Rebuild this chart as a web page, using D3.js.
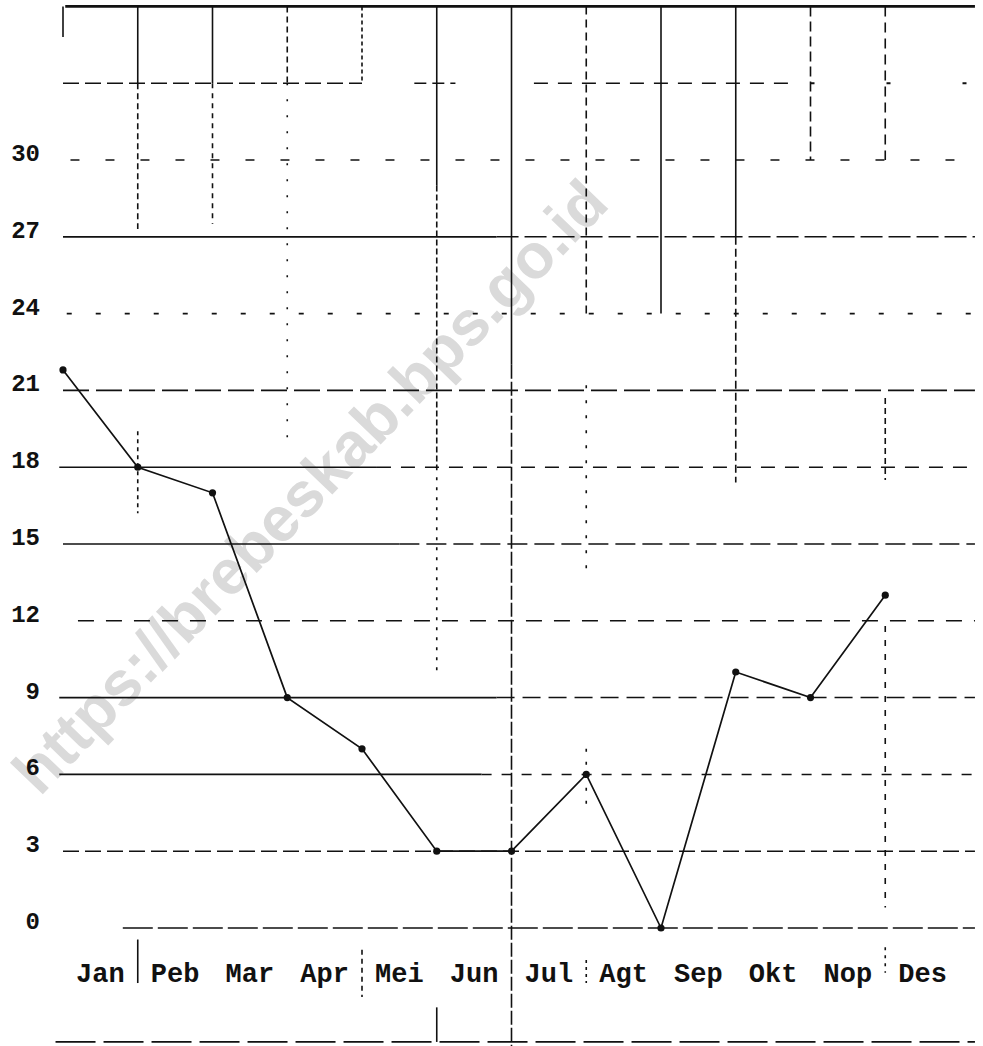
<!DOCTYPE html>
<html><head><meta charset="utf-8">
<script src="https://cdn.jsdelivr.net/npm/d3@7"></script>
<style>body{margin:0;background:#fff}svg{display:block}</style>
</head><body><svg id="c" width="983" height="1046"></svg>
<script>
// ---- data ----
const months = ["Jan","Peb","Mar","Apr","Mei","Jun","Jul","Agt","Sep","Okt","Nop","Des"];
const values = [21.8,18,17,9,7,3,3,6,0,10,9,13];
const yTicks = [0,3,6,9,12,15,18,21,24,27,30];
const watermark = "https://brebeskab.bps.go.id";

// ---- scales ----
const svg = d3.select("#c");
const x = d3.scaleBand().domain(months).range([63, 960]).padding(0);
const bw = x.bandwidth();
const gx = i => x.range()[0] + i * bw;           // grid position by (fractional) month index
const y = d3.scaleLinear().domain([0, 36]).range([928, 6.4]);

// ---- watermark ----
svg.append("text")
  .attr("transform", `translate(${gx(-0.31)},${y(5.1)}) rotate(-46)`)
  .attr("font-family", "Liberation Sans, Arial, sans-serif")
  .attr("font-weight", "bold")
  .attr("font-size", 63)
  .attr("fill", "#dadada")
  .text(watermark);

// ---- horizontal grid (scanned, broken lines) ----
const hStyle = new Map([
  [36, [[0.03,12.2,null,2.8]]],
  [33, [[0,4,"16 6",1.5],[4.7,5.25,"12 6",1.5],[6.3,9.8,"14 10",1.5],[10,12.2,"4 72",2]]],
  [30, [[0.1,12.2,"9 26",1.5]]],
  [27, [[0,5.8,null,1.7],[5.8,12.2,"22 6",1.6]]],
  [24, [[0.05,12.2,"5 24",1.6]]],
  [21, [[0,12.2,"26 7",1.6]]],
  [18, [[-0.05,4.2,null,1.6],[4.2,12.2,"14 10",1.5]]],
  [15, [[0,4.5,null,1.6],[4.5,12.2,"20 7",1.5]]],
  [12, [[0.2,12.2,"16 12",1.5]]],
  [9,  [[-0.05,5.8,null,1.6],[5.8,12.2,"18 8",1.5]]],
  [6,  [[-0.05,5.6,null,1.6],[5.6,12.2,"10 10",1.5]]],
  [3,  [[0,12.2,"16 6",1.5]]],
  [0,  [[0.8,12.2,"30 5",1.7]]],
  [-4.45, [[-0.1,12.2,"40 8",1.7]]]
]);
const hSegs = [];
hStyle.forEach((segs, v) => segs.forEach(s => hSegs.push({v, i0:s[0], i1:s[1], dash:s[2], w:s[3]})));
svg.append("g").selectAll("line").data(hSegs).join("line")
  .attr("x1", d => gx(d.i0)).attr("x2", d => gx(d.i1))
  .attr("y1", d => y(d.v)).attr("y2", d => y(d.v))
  .attr("stroke", "#111").attr("stroke-width", d => d.w)
  .attr("stroke-dasharray", d => d.dash);

// ---- vertical grid ----
const vStyle = new Map([
  [0,  [[36,34.8,null]]],
  [1,  [[36,33,null],[33,27.3,"6 4"],[19.4,16.2,"4 4"],[-0.45,-2.15,null]]],
  [2,  [[36,33,null],[33,27.5,"5 5"]]],
  [3,  [[36,33,"6 4"],[33,19,"2 14"]]],
  [4,  [[36,33,"4 3"],[-0.85,-2.7,"5 4"]]],
  [5,  [[36,29,null],[29,18,"6 3"],[18,10,"3 7"],[-3.1,-4.45,null]]],
  [6,  [[36,22,null],[22,-4.8,"14 3"]]],
  [7,  [[36,24,"8 5"],[21.2,13.9,"3 12"],[7,4.5,"3 10"],[-1.25,-2.15,"3 4"]]],
  [8,  [[36,24,null]]],
  [9,  [[36,27,null],[27,17.4,"8 4"]]],
  [10, [[36,30,"10 5"]]],
  [11, [[36,30,"10 6"],[20.7,17.5,"6 4"],[11.8,0.8,"6 8"],[-0.75,-1.75,"3 5"]]]
]);
const vSegs = [];
vStyle.forEach((segs, i) => segs.forEach(s => vSegs.push({i, v0:s[0], v1:s[1], dash:s[2]})));
svg.append("g").selectAll("line").data(vSegs).join("line")
  .attr("x1", d => gx(d.i)).attr("x2", d => gx(d.i))
  .attr("y1", d => y(d.v0)).attr("y2", d => y(d.v1))
  .attr("stroke", "#111").attr("stroke-width", 1.6)
  .attr("stroke-dasharray", d => d.dash);

// ---- y axis labels ----
svg.append("g").selectAll("text").data(yTicks).join("text")
  .attr("x", 40).attr("y", d => y(d) + 1)
  .attr("text-anchor", "end")
  .attr("font-family", "Liberation Mono, Courier New, monospace")
  .attr("font-weight", "bold").attr("font-size", 24)
  .attr("fill", "#111")
  .text(d => d);

// ---- month labels ----
svg.append("g").selectAll("text").data(months).join("text")
  .attr("x", d => x(d) + bw / 2).attr("y", 982)
  .attr("text-anchor", "middle")
  .attr("font-family", "Liberation Mono, Courier New, monospace")
  .attr("font-weight", "bold").attr("font-size", 27)
  .attr("fill", "#111")
  .text(d => d);

// ---- data line ----
const pts = months.map((m, i) => ({m, v: values[i]}));
svg.append("path").datum(pts)
  .attr("fill", "none").attr("stroke", "#111").attr("stroke-width", 1.7)
  .attr("d", d3.line().x(d => x(d.m)).y(d => y(d.v)));
svg.append("g").selectAll("circle").data(pts).join("circle")
  .attr("cx", d => x(d.m)).attr("cy", d => y(d.v)).attr("r", 3.6)
  .attr("fill", "#111");
</script>
</body></html>
